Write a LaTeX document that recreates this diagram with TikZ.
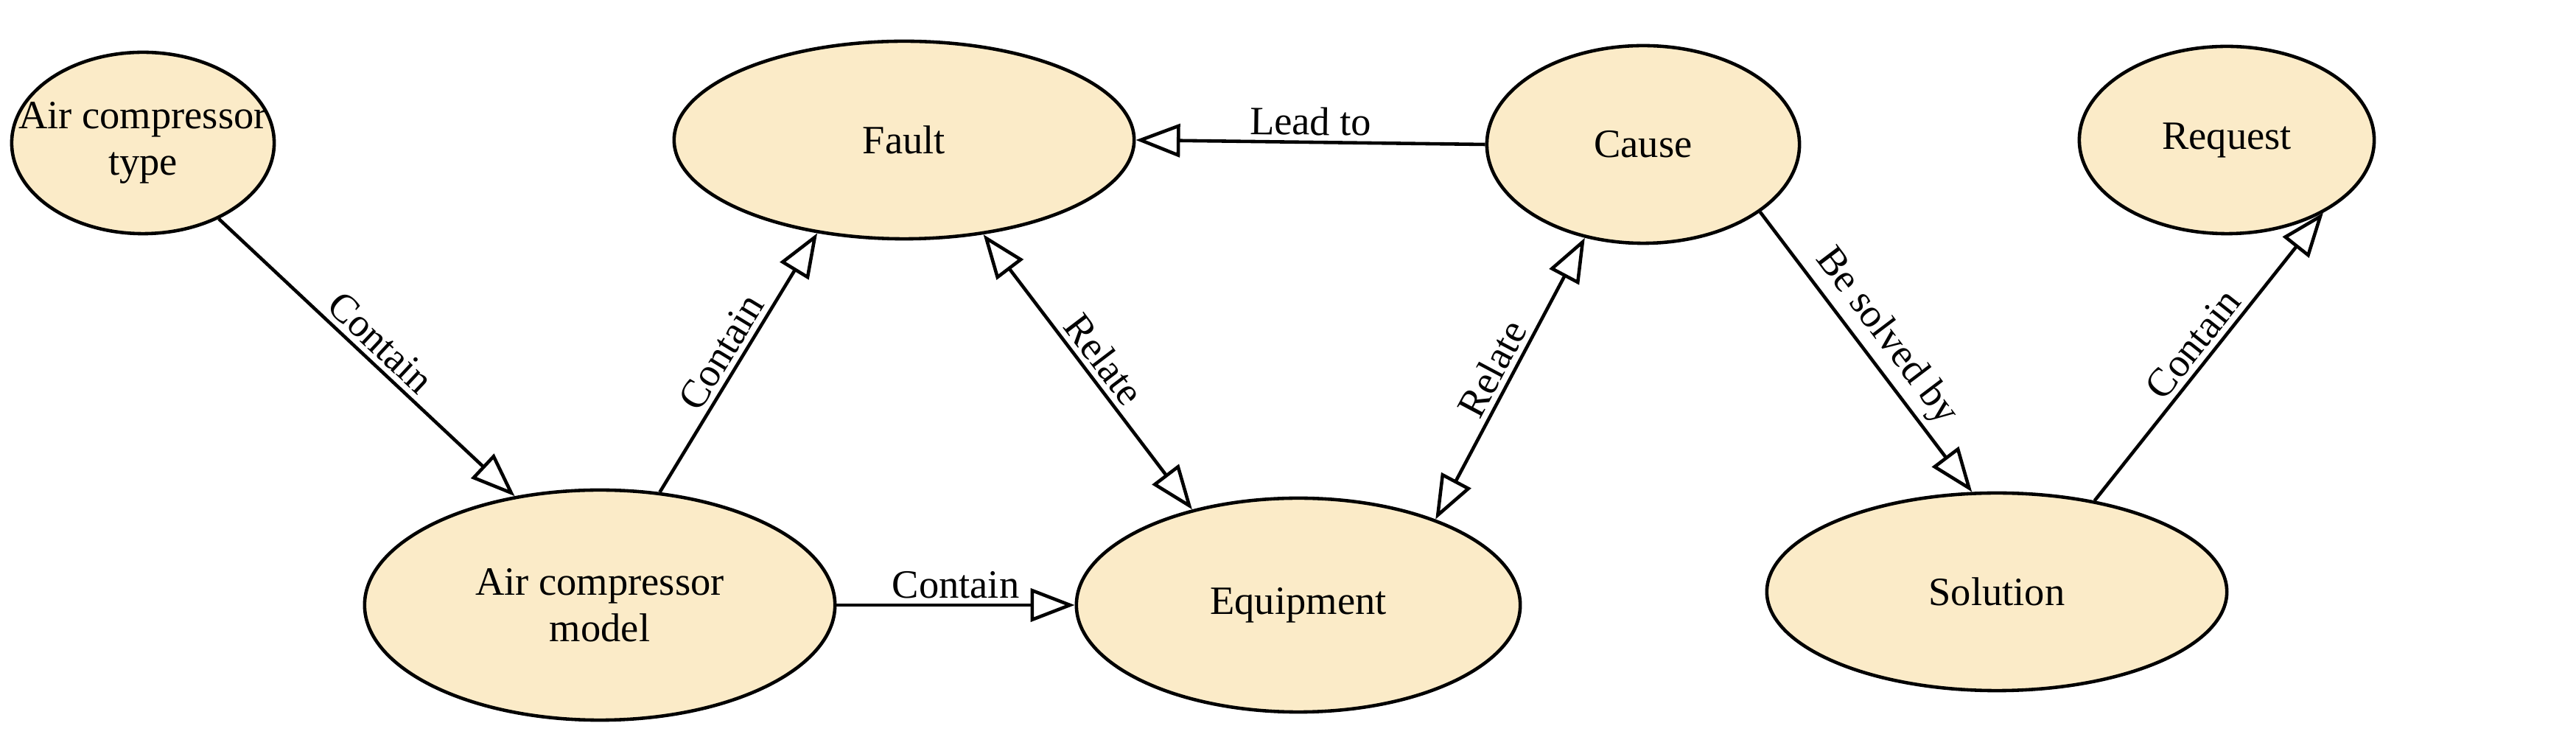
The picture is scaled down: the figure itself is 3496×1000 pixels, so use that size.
\documentclass[tikz,border=0pt]{standalone}
\usepackage{fontspec}
\setmainfont{Liberation Serif}
\usetikzlibrary{shapes.geometric,arrows.meta}
\definecolor{nodefill}{HTML}{FBEBC8}
\begin{document}
\begin{tikzpicture}[x=0.01cm,y=0.01cm,
  ent/.style={ellipse,draw,line width=1.3pt,fill=nodefill,inner sep=0pt,align=center,font=\fontsize{15.5}{18}\selectfont},
  rel/.style={line width=1.3pt,-{Triangle[open,length=0.6cm,width=0.45cm,fill=white]}},
  brel/.style={line width=1.3pt,{Triangle[open,length=0.6cm,width=0.45cm,fill=white]}-{Triangle[open,length=0.6cm,width=0.45cm,fill=white]}},
  lab/.style={font=\fontsize{15.5}{18}\selectfont,sloped,above,inner sep=2pt}]
\useasboundingbox (0,0) rectangle (3496,1000);
\node[ent,inner xsep=-14pt,inner ysep=-4pt,minimum width=3.56cm,minimum height=2.46cm] (type) at (194,806) {Air compressor\\type};
\node[ent,minimum width=6.24cm,minimum height=2.68cm] (fault) at (1227,810) {Fault};
\node[ent,minimum width=4.24cm,minimum height=2.68cm] (cause) at (2230,804) {Cause};
\node[ent,minimum width=4.00cm,minimum height=2.54cm] (req) at (3022,810) {Request};
\node[ent,inner xsep=-6pt,minimum width=6.38cm,minimum height=3.12cm] (model) at (814,179) {Air compressor\\model};
\node[ent,minimum width=6.02cm,minimum height=2.90cm] (equip) at (1762,179) {Equipment};
\node[ent,minimum width=6.24cm,minimum height=2.68cm] (sol) at (2710,197) {Solution};
\draw[rel] (type.-45) -- node[lab]{Contain} (model.128);
\draw[rel] (model.62) -- node[lab]{Contain} (fault.227);
\draw[rel] (model.0) -- node[lab]{Contain} (equip.180);
\draw[brel] (fault.310) -- node[lab]{Relate} (equip.138);
\draw[brel] (equip.32) -- node[lab]{Relate} (cause.238);
\draw[rel] (cause.180) -- node[lab]{Lead to} (fault.0);
\draw[rel] (cause.-30) -- node[lab]{Be solved by} (sol.104);
\draw[rel] (sol.43) -- node[lab]{Contain} (req.323);
\end{tikzpicture}
\end{document}
